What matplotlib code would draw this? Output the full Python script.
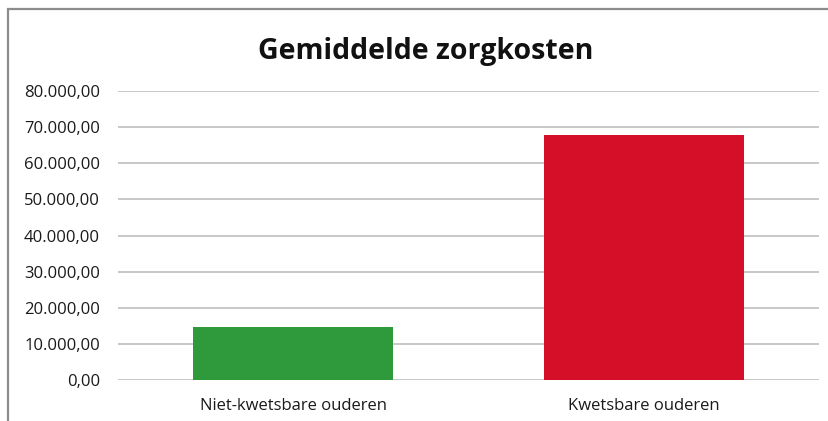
import matplotlib
matplotlib.use("Agg")
import matplotlib.pyplot as plt
from matplotlib.patches import Rectangle
from matplotlib.ticker import FuncFormatter

# data
categories = ["Niet-kwetsbare ouderen", "Kwetsbare ouderen"]
values = [14800, 67800]
bar_colors = ["#2F9A3B", "#D60F28"]

plt.rcParams['font.family'] = ['Open Sans', 'DejaVu Sans']

fig = plt.figure(figsize=(8.29, 4.21), dpi=100)
ax = fig.add_axes([118/829, 1 - 380/421, (819 - 118)/829, (380 - 91)/421])

ax.bar(range(len(categories)), values, width=0.57, color=bar_colors, zorder=2)
ax.set_xlim(-0.5, 1.5)
ax.set_ylim(0, 80000)
ax.set_yticks(range(0, 80001, 10000))

def nl_fmt(v, pos):
    s = "{:,.2f}".format(v)
    return s.replace(",", "X").replace(".", ",").replace("X", ".")

ax.yaxis.set_major_formatter(FuncFormatter(nl_fmt))
ax.set_xticks(range(len(categories)))
ax.set_xticklabels(categories)
ax.tick_params(axis='both', length=0, labelsize=12, colors="#1A1A1A")
ax.tick_params(axis='y', pad=13)
ax.tick_params(axis='x', pad=13)
ax.grid(axis='y', color="#BFBFBF", linewidth=1.2, zorder=0)
for s in ax.spines.values():
    s.set_visible(False)

fig.text(426/829, 1 - 51/421, "Gemiddelde zorgkosten", ha='center', va='center',
         fontsize=20.5, fontweight='bold', color="#111111")

# outer frame
fig.patches.append(Rectangle((8.5/829, -0.1), 1.2, 1 - 9.5/421 + 0.1, transform=fig.transFigure,
                             fill=False, edgecolor="#8C8C8C", linewidth=1.6))

fig.savefig("out.png", dpi=100)
